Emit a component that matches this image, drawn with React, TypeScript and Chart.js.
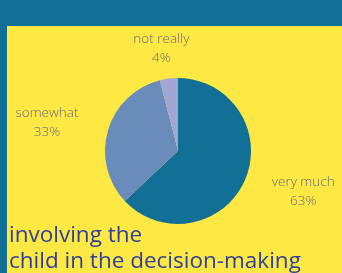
import React, { useEffect, useRef } from "react";
import { Chart, registerables } from "chart.js";

Chart.register(...registerables);

const categories = ["very much", "somewhat", "not really"];
const values = [63, 33, 4];
const valueLabels = ["63%", "33%", "4%"];
const sliceColors = ["#127096", "#6a8cba", "#a2a6d2"];
const titleLines = ["involving the", "child in the decision-making"];

const BG_BLUE = "#127096";
const PANEL_YELLOW = "#fee843";
const LABEL_COLOR = "#636a7c";
const TITLE_COLOR = "#2f3f9c";

const backgroundPlugin = {
  id: "bgPanel",
  beforeDraw(chart: any) {
    const { ctx, width, height } = chart;
    ctx.save();
    ctx.fillStyle = BG_BLUE;
    ctx.fillRect(0, 0, width, height);
    ctx.fillStyle = PANEL_YELLOW;
    ctx.fillRect(7, 26, width - 7, height - 26);
    ctx.restore();
  },
};

const labelPlugin = {
  id: "outerLabels",
  afterDatasetsDraw(chart: any) {
    const { ctx } = chart;
    const meta = chart.getDatasetMeta(0);
    ctx.save();
    ctx.font = "300 13.5px 'Open Sans'";
    ctx.fillStyle = LABEL_COLOR;
    ctx.textAlign = "center";
    ctx.textBaseline = "middle";
    const lineH = 19;
    meta.data.forEach((arc: any, i: number) => {
      const p = arc.getProps(["x", "y", "startAngle", "endAngle", "outerRadius"], true);
      const mid = (p.startAngle + p.endAngle) / 2;
      const dx = Math.cos(mid);
      const dy = Math.sin(mid);
      const w = Math.max(ctx.measureText(categories[i]).width, ctx.measureText(valueLabels[i]).width);
      const h = lineH * 2;
      const cx = p.x + dx * (p.outerRadius + 32) + (dx * w) / 2;
      const cy = p.y + dy * (p.outerRadius + 11) + (dy * h) / 2;
      ctx.fillText(categories[i], cx, cy - lineH / 2);
      ctx.fillText(valueLabels[i], cx, cy + lineH / 2);
    });
    ctx.restore();
  },
  afterDraw(chart: any) {
    const { ctx } = chart;
    ctx.save();
    ctx.font = "22.5px 'Open Sans'";
    ctx.fillStyle = TITLE_COLOR;
    ctx.textAlign = "left";
    ctx.textBaseline = "alphabetic";
    titleLines.forEach((t, i) => {
      ctx.fillText(t, 9, 242 + i * 26);
    });
    ctx.restore();
  },
};

export default function App() {
  const ref = useRef<HTMLCanvasElement | null>(null);
  useEffect(() => {
    document.body.style.margin = "0";
    const chart = new Chart(ref.current as HTMLCanvasElement, {
      type: "pie",
      data: {
        labels: categories,
        datasets: [
          {
            data: values,
            backgroundColor: sliceColors,
            borderWidth: 0,
          },
        ],
      },
      options: {
        animation: false,
        responsive: false,
        maintainAspectRatio: false,
        layout: { padding: { left: 105, right: 91, top: 78, bottom: 49 } },
        plugins: {
          legend: { display: false },
          tooltip: { enabled: false },
          title: { display: false },
        },
      },
      plugins: [backgroundPlugin, labelPlugin],
    });
    return () => chart.destroy();
  }, []);
  return (
    <div style={{ width: 342, height: 273 }}>
      <canvas ref={ref} width={342} height={273} style={{ display: "block" }} />
    </div>
  );
}
